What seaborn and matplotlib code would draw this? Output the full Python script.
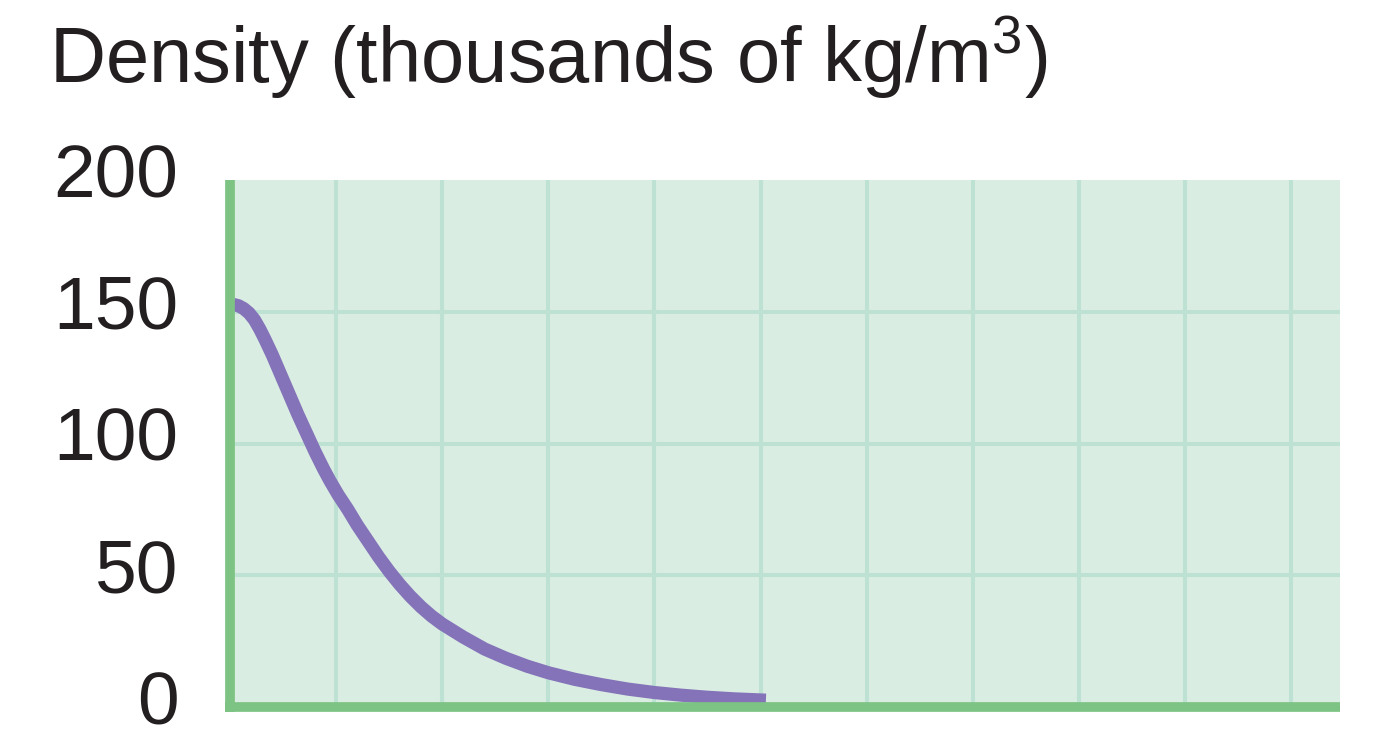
import matplotlib
matplotlib.use("Agg")
import matplotlib.pyplot as plt
import matplotlib.transforms as mtransforms
import seaborn as sns
import pandas as pd

# Density profile (thousands of kg/m^3) versus distance (grid units)
distance = [0.03, 0.08, 0.13, 0.18, 0.23, 0.28, 0.33, 0.40, 0.48, 0.56,
            0.64, 0.72, 0.80, 0.88, 0.94, 1.02, 1.11, 1.20, 1.30, 1.40,
            1.50, 1.60, 1.70, 1.80, 1.90, 2.00, 2.20, 2.40, 2.60, 2.80,
            3.00, 3.25, 3.50, 3.75, 4.00, 4.25, 4.50, 4.75, 5.05]
density = [152.8, 152.3, 151.2, 149.5, 147.0, 143.5, 139.5, 133.5, 126.0, 118.5,
           111.0, 104.0, 97.0, 90.5, 86.0, 80.5, 75.0, 69.0, 63.0, 57.0,
           51.5, 46.5, 42.0, 38.0, 34.5, 31.5, 26.5, 22.0, 18.5, 15.5,
           13.0, 10.5, 8.5, 6.8, 5.5, 4.5, 3.7, 3.1, 2.6]

y_ticks = [0, 50, 100, 150, 200]
y_tick_labels = ["0", "50", "100", "150", "200"]
x_grid = [1, 2, 3, 4, 5, 6, 7, 8, 9, 10]
x_max = 10.46

sns.set_theme(style="white")
plt.rcParams["font.family"] = ["Liberation Sans", "DejaVu Sans"]
plt.rcParams["mathtext.fontset"] = "custom"
plt.rcParams["mathtext.rm"] = "Liberation Sans"
plt.rcParams["mathtext.it"] = "Liberation Sans"

TEXT = "#231F20"
BG = "#DAEDE3"
GRID = "#BDE2D3"
AXIS = "#7DC383"
CURVE = "#8473B9"

fig = plt.figure(figsize=(13.73, 7.31), dpi=100)
ax = fig.add_axes([0.1675, 0.0328, 0.8085, 0.7209])
ax.set_facecolor(BG)

df = pd.DataFrame({"distance": distance, "density": density})
sns.lineplot(data=df, x="distance", y="density", ax=ax, sort=False,
             color=CURVE, linewidth=9.5, solid_capstyle="butt",
             solid_joinstyle="round", zorder=3)

ax.set_xlim(0, x_max)
ax.set_ylim(0, 200)
ax.set_xticks(x_grid)
ax.set_xticklabels([])
ax.set_yticks(y_ticks)
ax.set_yticklabels(y_tick_labels)
ax.tick_params(axis="both", length=0)
ax.tick_params(axis="y", labelsize=54, labelcolor=TEXT, pad=37)
ax.set_xlabel("")
ax.set_ylabel("")

ax.grid(True, color=GRID, linewidth=2.9)
ax.set_axisbelow(True)
for gl, t in zip(ax.yaxis.get_gridlines(), y_ticks):
    if t in (0, 200):
        gl.set_visible(False)

for side in ("top", "right"):
    ax.spines[side].set_visible(False)
spine_w = 7.0
for side in ("left", "bottom"):
    sp = ax.spines[side]
    sp.set_color(AXIS)
    sp.set_linewidth(spine_w)
    sp.set_capstyle("butt")
    sp.set_zorder(4)

# close the corner where the two axis lines meet
fig.canvas.draw()
bbox = ax.get_window_extent()
half_px = spine_w * fig.dpi / 72 / 2
dx = half_px / bbox.width * x_max
dy = half_px / bbox.height * 200
ax.spines["bottom"].set_bounds(-dx, x_max)
ax.spines["left"].set_bounds(-dy, 200)

# nudge the y labels slightly upward
shift = mtransforms.ScaledTranslation(0, 10 / 100, fig.dpi_scale_trans)
for tick in ax.yaxis.get_major_ticks():
    tick.label1.set_transform(tick.label1.get_transform() + shift)

fig.text(0.036, 0.886, r"Density (thousands of kg/m$^{3}$)",
         fontsize=56, color=TEXT, ha="left", va="baseline")

fig.savefig("out.png", dpi=100, facecolor="white")
